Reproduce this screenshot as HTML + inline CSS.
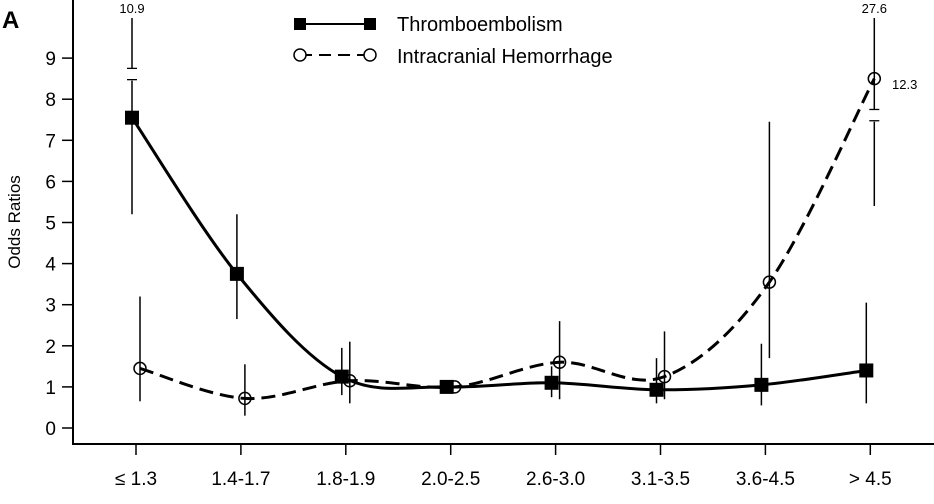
<!DOCTYPE html>
<html><head><meta charset="utf-8"><style>
body{margin:0;background:#fff}
svg{display:block;font-family:"Liberation Sans",Arial,sans-serif}
</style></head><body>
<svg id="chart" width="934" height="504" viewBox="0 0 934 504">
<text x="2" y="28" font-size="24" font-weight="bold">A</text>
<line x1="73" y1="0" x2="73" y2="445" stroke="#000" stroke-width="2"/>
<line x1="72" y1="444" x2="934" y2="444" stroke="#000" stroke-width="2"/>
<text transform="translate(20,222) rotate(-90)" text-anchor="middle" font-size="17">Odds Ratios</text>
<g id="yt"></g><g id="xt"></g><g id="marks"></g>
<g>
<g>
<line x1="300" y1="24" x2="370" y2="24" stroke="#000" stroke-width="2"/>
<rect x="294" y="18" width="12" height="12" fill="#000"/><rect x="364" y="18" width="12" height="12" fill="#000"/>
<text x="397" y="31" font-size="20">Thromboembolism</text></g>
<g>
<line x1="300" y1="55" x2="370" y2="55" stroke="#000" stroke-width="2" stroke-dasharray="12,7"/>
<circle cx="300" cy="55" r="6" fill="#fff" stroke="#000" stroke-width="1.5"/><circle cx="370" cy="55" r="6" fill="#fff" stroke="#000" stroke-width="1.5"/>
<text x="397" y="63" font-size="20">Intracranial Hemorrhage</text></g>
</g>
</svg>
<script>
const categories=["≤ 1.3","1.4-1.7","1.8-1.9","2.0-2.5","2.6-3.0","3.1-3.5","3.6-4.5","> 4.5"];
const yTicks=[0,1,2,3,4,5,6,7,8,9];
const teValues=[7.55,3.75,1.25,1.0,1.1,0.93,1.05,1.4];
const teLow=[5.2,2.65,0.8,null,0.75,0.6,0.55,0.6];
const teHigh=[10.9,5.2,1.95,null,1.5,1.7,2.05,3.05];
const ichValues=[1.45,0.72,1.15,1.0,1.6,1.25,3.55,8.5];
const ichLow=[0.65,0.3,0.6,null,0.7,0.7,1.7,5.4];
const ichHigh=[3.2,1.55,2.1,null,2.6,2.35,7.45,27.6];
const NS="http://www.w3.org/2000/svg";
const y=v=>428-41.1*Math.min(v,9.8);
const x=i=>136+i*104.9;
function mk(t,a,p){const e=document.createElementNS(NS,t);for(const k in a)e.setAttribute(k,a[k]);p.appendChild(e);return e;}
const yt=document.getElementById('yt'),xt=document.getElementById('xt'),m=document.getElementById('marks');
yTicks.forEach(v=>{const g=mk('g',{},yt);


mk('line',{x1:62,x2:73,y1:y(v),y2:y(v),stroke:'#000','stroke-width':1.5},g);
const t=mk('text',{x:56,y:y(v)+7,'text-anchor':'end','font-size':19},g);t.textContent=v;});
categories.forEach((c,i)=>{const g=mk('g',{},xt);


mk('line',{x1:x(i),x2:x(i),y1:444,y2:455,stroke:'#000','stroke-width':1.5},g);
const t=mk('text',{x:x(i),y:485,'text-anchor':'middle','font-size':19},g);t.textContent=c;});
function curve(vals,off){const p=vals.map((v,i)=>[x(i)+off,y(v)]);let d=`M${p[0][0]},${p[0][1]}`;
for(let i=0;i<p.length-1;i++){const p0=p[i-1]||p[i],p1=p[i],p2=p[i+1],p3=p[i+2]||p2;
d+=` C${p1[0]+(p2[0]-p0[0])/6},${p1[1]+(p2[1]-p0[1])/6} ${p2[0]-(p3[0]-p1[0])/6},${p2[1]-(p3[1]-p1[1])/6} ${p2[0]},${p2[1]}`;}return d;}
function err(lo,hi,off,name){lo.forEach((l,i)=>{if(l==null)return;const h=hi[i],xx=x(i)+off;
const e=mk('line',{x1:xx,x2:xx,y1:y(l),y2:h>9.8?18:y(h),stroke:'#000','stroke-width':1.5},m);


if(h>9.8){const b=h>20?7.5:8.5;mk('rect',{x:xx-4,y:y(b+0.25),width:8,height:y(b)-y(b+0.25)+2,fill:'#fff'},m);
mk('line',{x1:xx-5,x2:xx+5,y1:y(b+0.25),y2:y(b+0.25),stroke:'#000','stroke-width':1.3},m);
mk('line',{x1:xx-5,x2:xx+5,y1:y(b)+1,y2:y(b)+1,stroke:'#000','stroke-width':1.3},m);
const t=mk('text',{x:xx,y:13,'text-anchor':'middle','font-size':13},m);t.textContent=h;}});}
err(teLow,teHigh,-4,'te');err(ichLow,ichHigh,4,'ich');
const l1=mk('path',{d:curve(teValues,-4),fill:'none',stroke:'#000','stroke-width':3},m);


const l2=mk('path',{d:curve(ichValues,4),fill:'none',stroke:'#000','stroke-width':3,'stroke-dasharray':'14,7'},m);


teValues.forEach((v,i)=>{const r=mk('rect',{x:x(i)-4-7,y:y(v)-7,width:14,height:14,fill:'#000'},m);

});
ichValues.forEach((v,i)=>{const c=mk('circle',{cx:x(i)+4,cy:y(v),r:6,fill:'#fff','fill-opacity':0,stroke:'#000','stroke-width':1.5},m);

});
const lbl=mk('text',{x:892,y:89,'font-size':13},m);lbl.textContent='12.3';


</script>
</body></html>
